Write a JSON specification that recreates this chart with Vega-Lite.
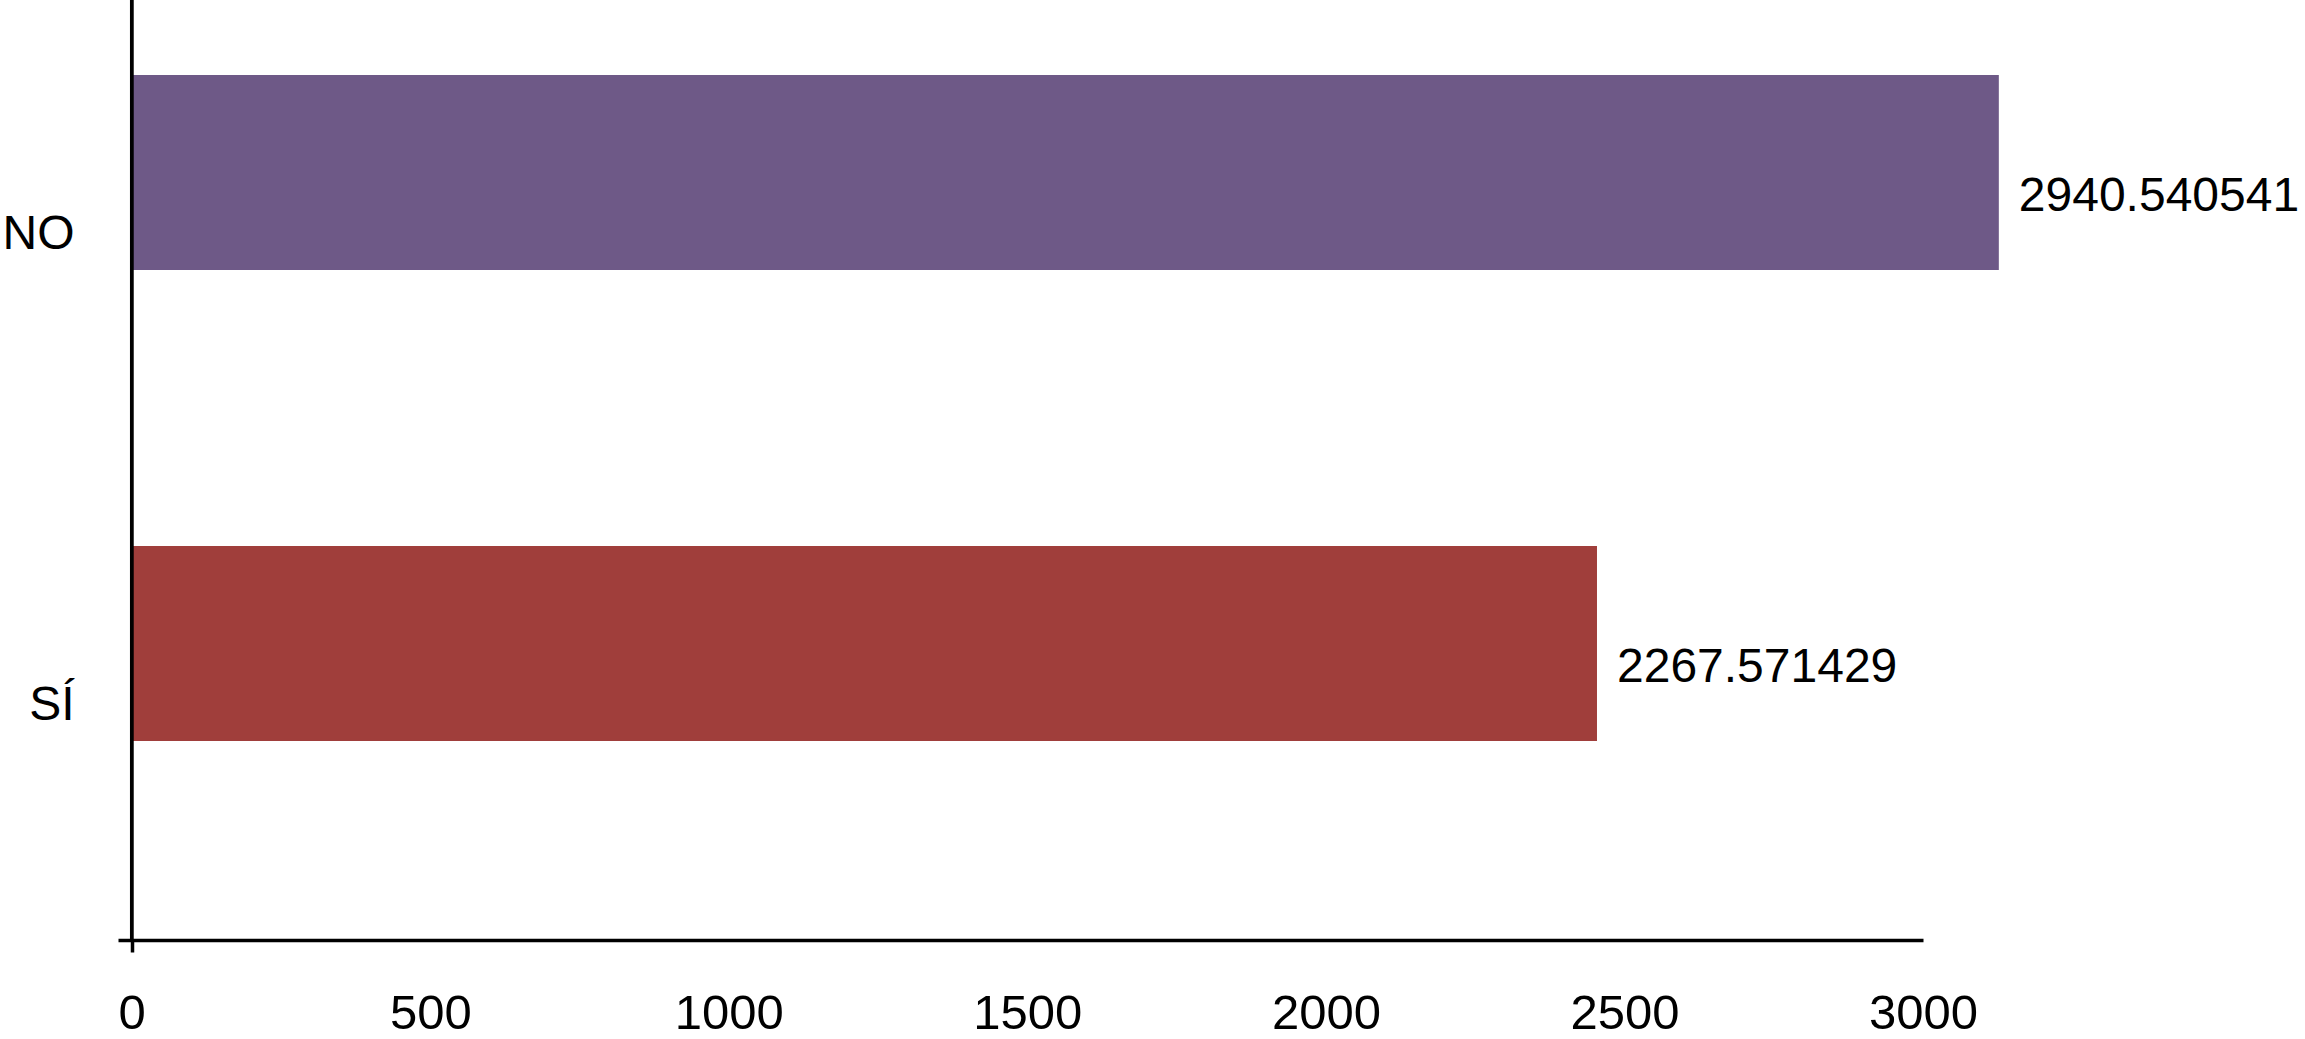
{
  "$schema": "https://vega.github.io/schema/vega-lite/v6.json",
  "autosize": {"type": "none"},
  "width": 1805,
  "height": 940,
  "padding": {"left": 118, "top": 0, "right": 382, "bottom": 99},
  "background": "white",
  "config": {"view": {"stroke": null}, "font": "Liberation Sans"},
  "data": {
    "values": [
      {"respuesta": "NO", "valor": "2940.540541", "longitud": 3127},
      {"respuesta": "SÍ", "valor": "2267.571429", "longitud": 2454}
    ]
  },
  "layer": [
    {
      "mark": {"type": "bar"},
      "encoding": {
        "y": {
          "field": "respuesta",
          "type": "nominal",
          "sort": ["NO", "SÍ"],
          "scale": {"paddingInner": 0.586, "paddingOuter": 0.291, "align": 0.274},
          "axis": {
            "title": null,
            "domain": false,
            "ticks": false,
            "labelFontSize": 48,
            "labelColor": "black",
            "labelOffset": 62,
            "labelPadding": 44,
            "labelAlign": "right",
            "labelFont": "Liberation Sans"
          }
        },
        "x": {
          "field": "longitud",
          "type": "quantitative",
          "scale": {"domain": [-23, 3000], "nice": false, "zero": false},
          "axis": {
            "values": [0, 500, 1000, 1500, 2000, 2500, 3000],
            "format": "d",
            "title": null,
            "grid": false,
            "domainColor": "black",
            "domainWidth": 3.5,
            "tickSize": 12,
            "tickWidth": 3.5,
            "tickColor": "black",
            "tickOpacity": {"condition": {"test": "datum.value === 0", "value": 1}, "value": 0},
            "labelFontSize": 49,
            "labelColor": "black",
            "labelPadding": 37,
            "labelFlush": false,
            "labelOverlap": false,
            "labelBound": false,
            "labelFont": "Liberation Sans"
          }
        },
        "color": {
          "field": "respuesta",
          "type": "nominal",
          "scale": {"domain": ["NO", "SÍ"], "range": ["#6E5987", "#A03E3B"]},
          "legend": null
        }
      }
    },
    {
      "mark": {"type": "text", "align": "left", "baseline": "middle", "dx": 20, "dy": 24, "fontSize": 48, "color": "black"},
      "encoding": {
        "y": {"field": "respuesta", "type": "nominal", "sort": ["NO", "SÍ"]},
        "x": {"field": "longitud", "type": "quantitative"},
        "text": {"field": "valor", "type": "nominal"}
      }
    },
    {
      "mark": {"type": "rule", "color": "black", "strokeWidth": 3.5},
      "encoding": {"x": {"datum": 0, "type": "quantitative"}}
    }
  ]
}
